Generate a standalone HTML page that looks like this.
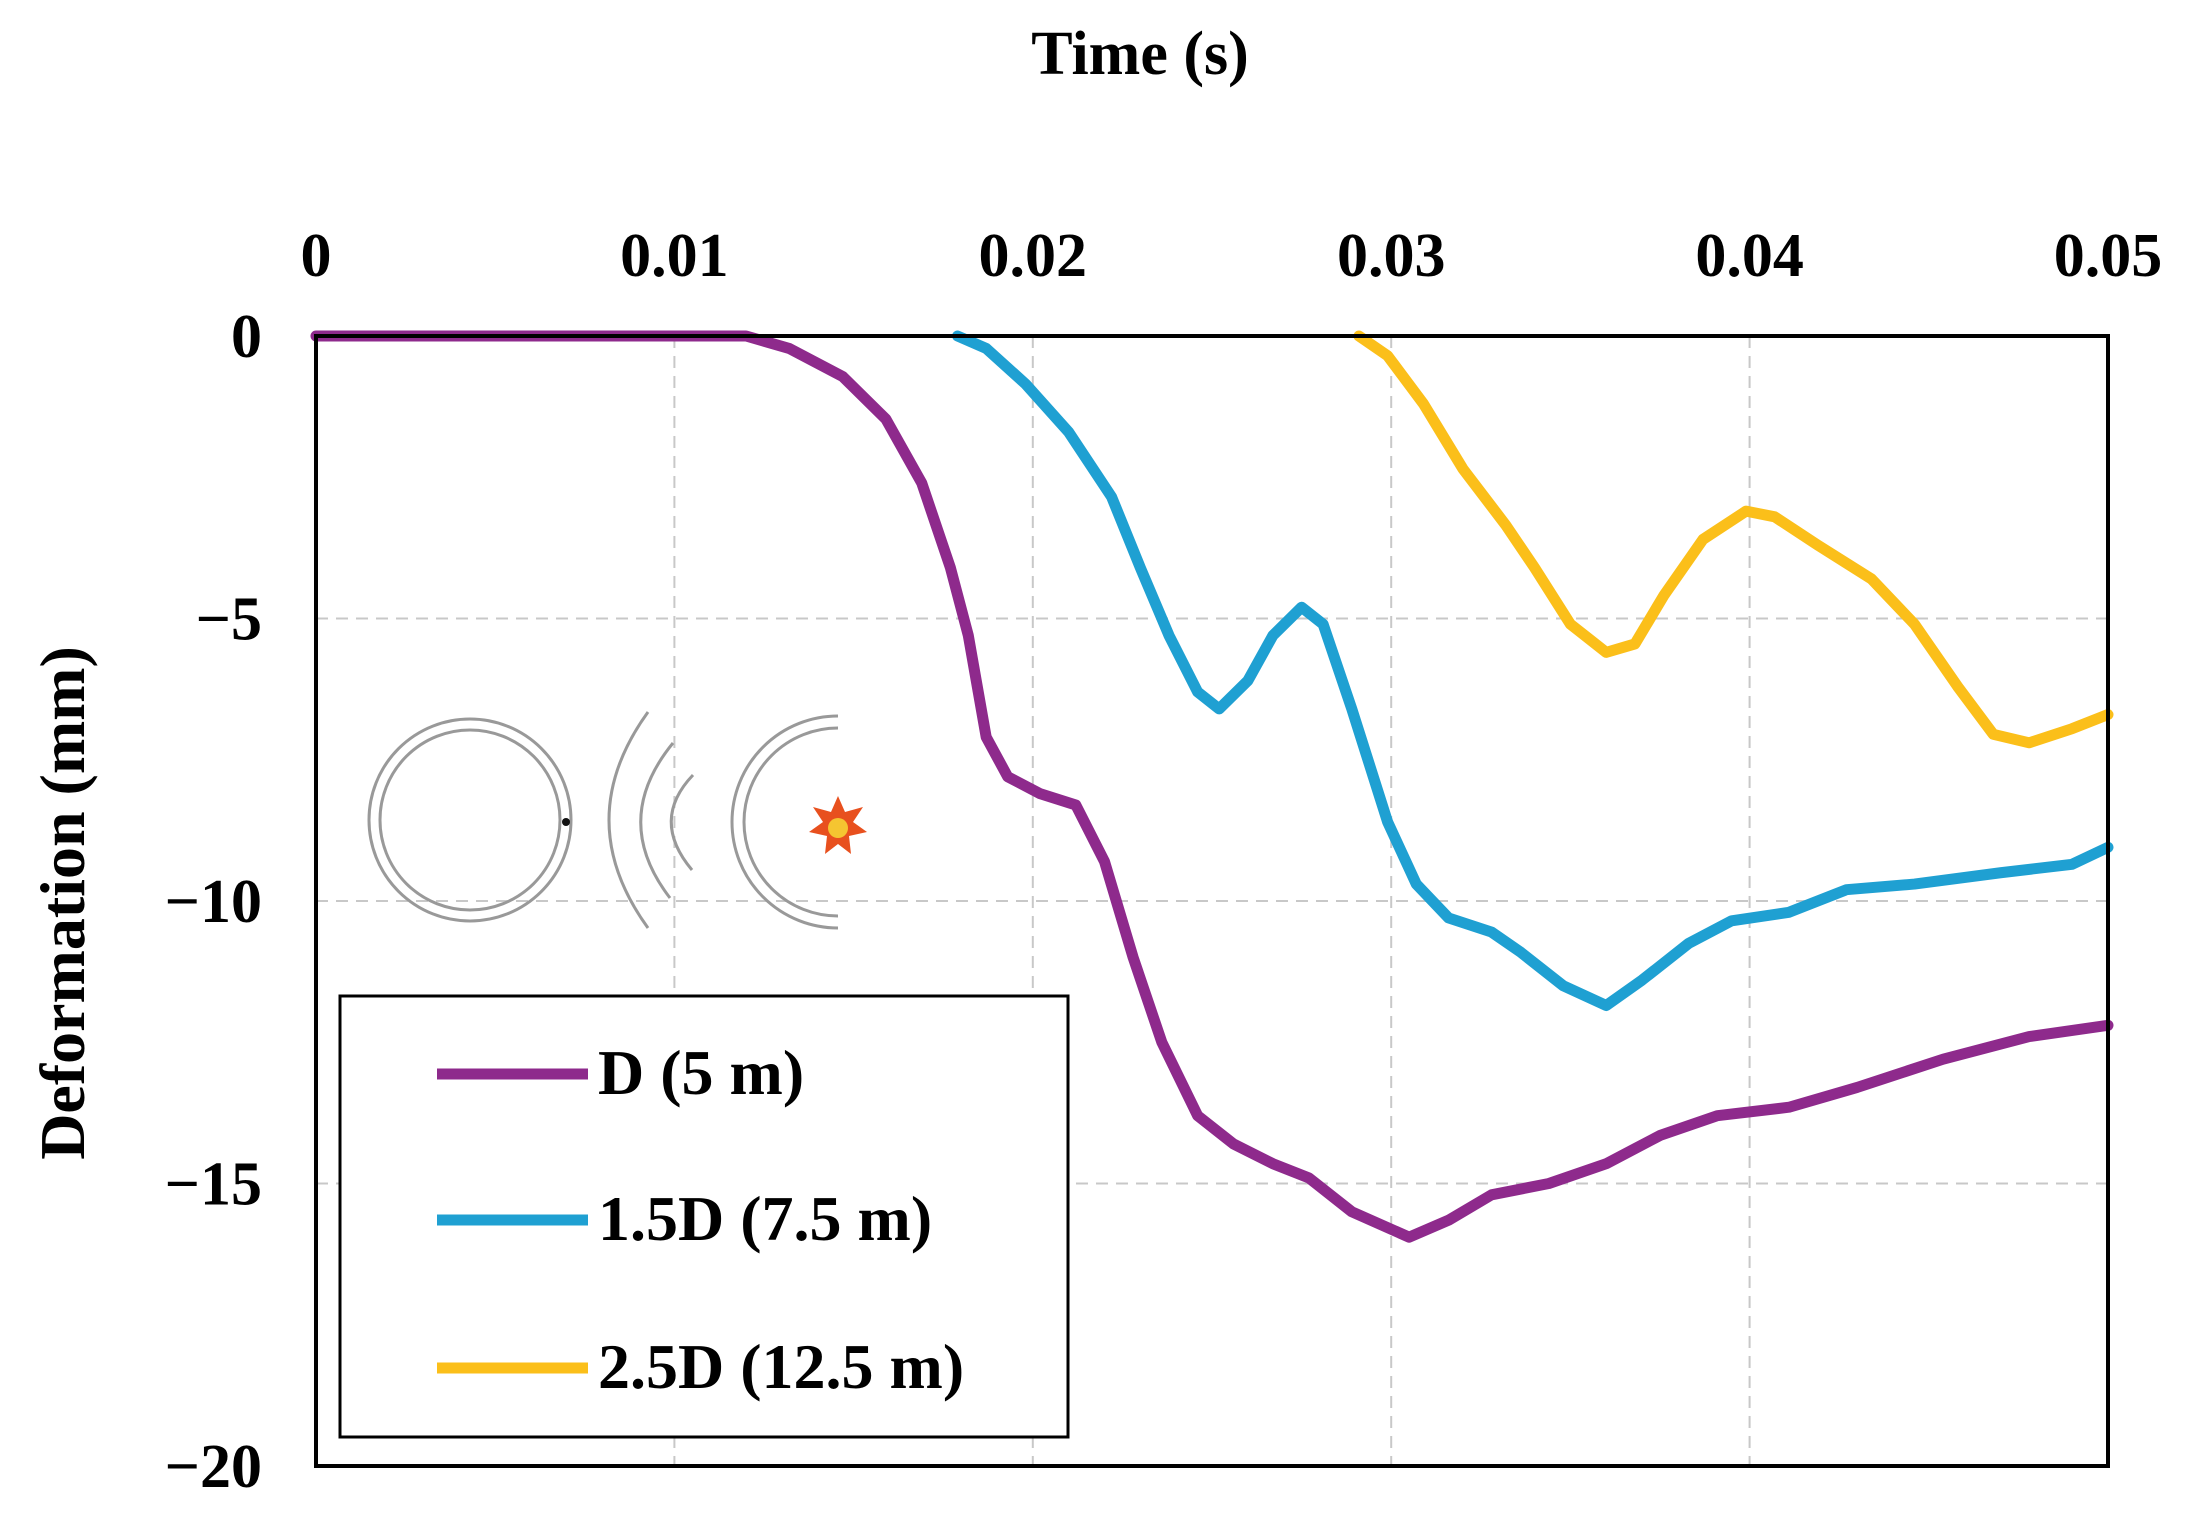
<!DOCTYPE html>
<html><head><meta charset="utf-8"><style>
html,body{margin:0;padding:0;background:#fff;}
svg{display:block;}
text{font-family:"Liberation Serif",serif;font-weight:bold;fill:#000;}
</style></head><body>
<svg id="chart" width="2207" height="1517" viewBox="0 0 2207 1517">
<g id="grid"></g>
<g id="icon">
 <circle cx="470" cy="820" r="101" fill="none" stroke="#999" stroke-width="3"/>
 <circle cx="470" cy="820" r="90" fill="none" stroke="#999" stroke-width="3"/>
 <circle cx="566" cy="822" r="4" fill="#111"/>
 <path d="M648,712 Q570,820 648,928" fill="none" stroke="#999" stroke-width="3"/>
 <path d="M673,743 Q610,820 670,898" fill="none" stroke="#999" stroke-width="3"/>
 <path d="M693,775 Q650,820 692,870" fill="none" stroke="#999" stroke-width="3"/>
 <path d="M838,716 A104,104 0 0 0 838,928" fill="none" stroke="#999" stroke-width="3"/>
 <path d="M838,728 A94,94 0 0 0 838,916" fill="none" stroke="#999" stroke-width="3"/>
 <polygon points="838,796 845,812 863,807 853,822 867,832 849,836 851,854 838,844 825,854 827,836 809,832 823,822 813,807 831,812" fill="#e8501e"/>
 <circle cx="838" cy="828" r="10" fill="#f5c531"/>
</g>
<g id="series"></g>
<rect x="316" y="336" width="1792" height="1130" fill="none" stroke="#000" stroke-width="4"/>
<g id="ticks"></g>
<text x="1140" y="74" font-size="62" text-anchor="middle">Time (s)</text>
<text transform="translate(84,903) rotate(-90)" font-size="64" text-anchor="middle">Deformation (mm)</text>
<g>
 <rect x="340" y="996" width="728" height="441" fill="#fff" stroke="#000" stroke-width="3"/>
 <line x1="437" y1="1074" x2="588" y2="1074" stroke="#8e2a8c" stroke-width="11"/>
 <text x="598" y="1094" font-size="64">D (5 m)</text>
 <line x1="437" y1="1220" x2="588" y2="1220" stroke="#1fa0d2" stroke-width="11"/>
 <text x="598" y="1240" font-size="64">1.5D (7.5 m)</text>
 <line x1="437" y1="1368" x2="588" y2="1368" stroke="#fbbf1a" stroke-width="11"/>
 <text x="598" y="1388" font-size="64">2.5D (12.5 m)</text>
</g>
</svg>
<script>
const xTicks=[0,0.01,0.02,0.03,0.04,0.05];
const xTickLabels=["0","0.01","0.02","0.03","0.04","0.05"];
const yTicks=[0,-5,-10,-15,-20];
const yTickLabels=["0","\u22125","\u221210","\u221215","\u221220"];
const tD=[0,0.006,0.012,0.0132,0.0147,0.0159,0.0169,0.0177,0.0182,0.0187,0.0193,0.0202,0.0212,0.022,0.0228,0.0236,0.0246,0.0256,0.0267,0.0277,0.0289,0.0305,0.0316,0.0328,0.0344,0.036,0.0375,0.0391,0.0411,0.043,0.0454,0.0478,0.05];
const vD=[0,0,0,-0.22,-0.72,-1.47,-2.6,-4.1,-5.3,-7.1,-7.8,-8.1,-8.3,-9.3,-11.0,-12.5,-13.8,-14.3,-14.65,-14.9,-15.5,-15.95,-15.65,-15.2,-15.0,-14.65,-14.15,-13.8,-13.65,-13.3,-12.8,-12.4,-12.2];
const t15=[0.0179,0.0187,0.0198,0.021,0.0222,0.023,0.0238,0.0246,0.0252,0.026,0.0267,0.0275,0.0281,0.0289,0.0299,0.0307,0.0316,0.0328,0.0336,0.0348,0.036,0.037,0.0383,0.0395,0.0411,0.0427,0.0446,0.047,0.049,0.05];
const v15=[0,-0.22,-0.85,-1.7,-2.85,-4.1,-5.3,-6.3,-6.6,-6.1,-5.3,-4.8,-5.1,-6.6,-8.6,-9.7,-10.3,-10.55,-10.9,-11.5,-11.85,-11.4,-10.75,-10.35,-10.2,-9.8,-9.7,-9.5,-9.35,-9.05];
const t25=[0.0291,0.0299,0.0309,0.032,0.0332,0.034,0.035,0.036,0.0368,0.0376,0.0387,0.0399,0.0407,0.0419,0.0434,0.0446,0.0458,0.0468,0.0478,0.049,0.05];
const v25=[0,-0.35,-1.2,-2.35,-3.35,-4.1,-5.1,-5.6,-5.45,-4.6,-3.6,-3.1,-3.2,-3.7,-4.3,-5.1,-6.2,-7.05,-7.2,-6.95,-6.7];
const NS="http://www.w3.org/2000/svg";
const X=t=>316+t/0.05*1792;
const Y=v=>336+(-v)/20*1130;
const grid=document.getElementById('grid'),ticks=document.getElementById('ticks'),series=document.getElementById('series');
xTicks.forEach((t,i)=>{
 if(i>0&&i<xTicks.length-1){
  const l=document.createElementNS(NS,'line');
  l.setAttribute('x1',X(t));l.setAttribute('x2',X(t));l.setAttribute('y1',336);l.setAttribute('y2',1466);
  l.setAttribute('stroke','#c8c8c8');l.setAttribute('stroke-width','2');l.setAttribute('stroke-dasharray','12,8');
  
  
  grid.appendChild(l);
 }
 const tx=document.createElementNS(NS,'text');
 tx.setAttribute('x',X(t));tx.setAttribute('y',276);tx.setAttribute('font-size','62');tx.setAttribute('text-anchor','middle');
 tx.textContent=xTickLabels[i];
 
 
 ticks.appendChild(tx);
});
yTicks.forEach((v,i)=>{
 if(i>0&&i<yTicks.length-1){
  const l=document.createElementNS(NS,'line');
  l.setAttribute('x1',316);l.setAttribute('x2',2108);l.setAttribute('y1',Y(v));l.setAttribute('y2',Y(v));
  l.setAttribute('stroke','#c8c8c8');l.setAttribute('stroke-width','2');l.setAttribute('stroke-dasharray','12,8');
  
  
  grid.appendChild(l);
 }
 const tx=document.createElementNS(NS,'text');
 tx.setAttribute('x',262);tx.setAttribute('y',Y(v)+21);tx.setAttribute('font-size','62');tx.setAttribute('text-anchor','end');
 tx.textContent=yTickLabels[i];
 
 
 ticks.appendChild(tx);
});
function draw(ts,vs,color,name){
 const p=document.createElementNS(NS,'polyline');
 p.setAttribute('points',ts.map((t,i)=>X(t)+','+Y(vs[i])).join(' '));
 p.setAttribute('fill','none');p.setAttribute('stroke',color);p.setAttribute('stroke-width','11');
 p.setAttribute('stroke-linejoin','round');p.setAttribute('stroke-linecap','round');
 
 
 series.appendChild(p);
}
draw(tD,vD,'#8e2a8c','series-d-5m');
draw(t15,v15,'#1fa0d2','series-1-5d-7-5m');
draw(t25,v25,'#fbbf1a','series-2-5d-12-5m');
</script>
</body></html>
